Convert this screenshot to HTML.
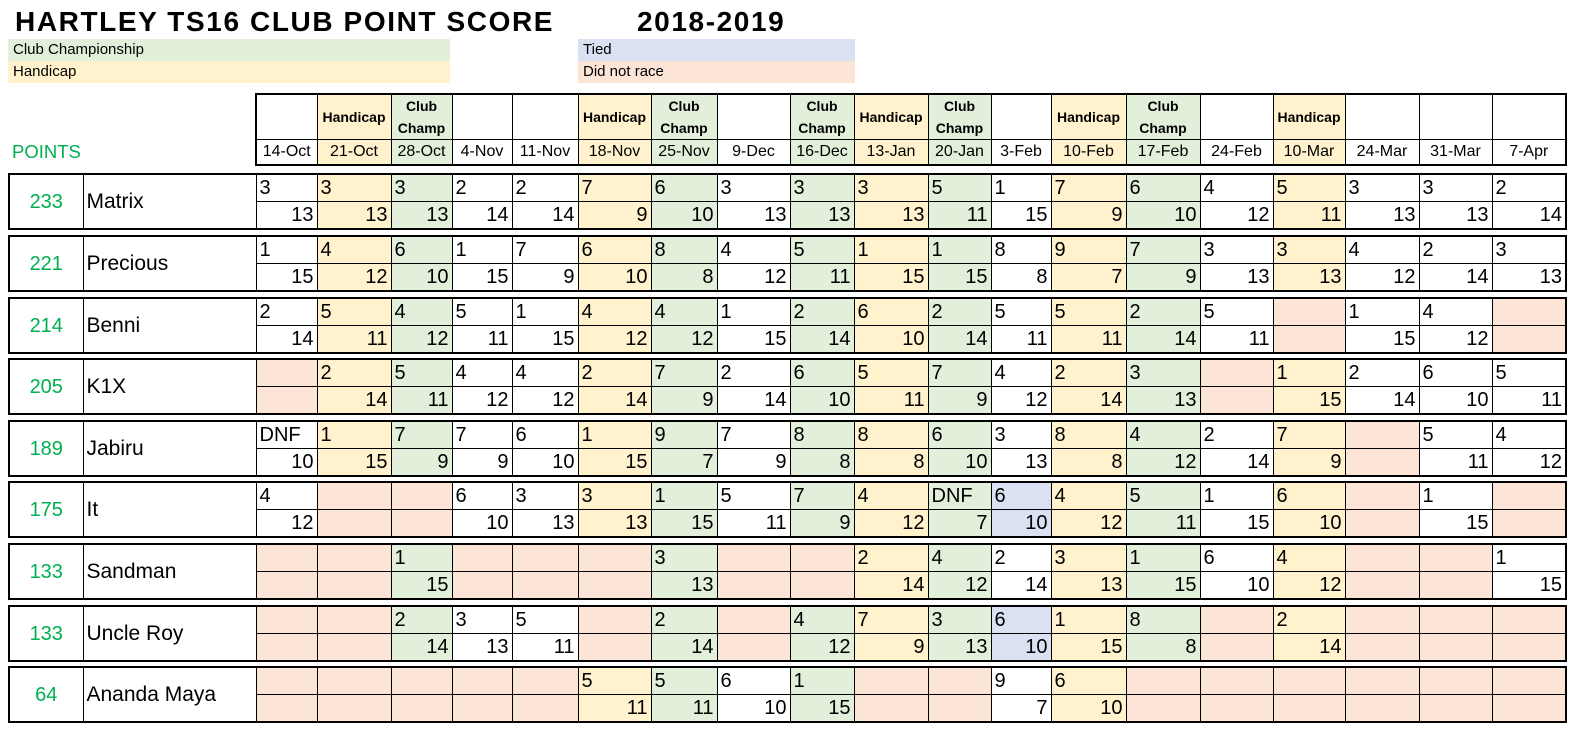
<!DOCTYPE html>
<html><head><meta charset="utf-8">
<style>
body{margin:0;width:1574px;height:733px;background:#fff;position:relative;overflow:hidden;font-family:"Liberation Sans",Arial,sans-serif;}
.abs{position:absolute}
.title{font-weight:bold;font-size:28px;top:4px;line-height:36px;letter-spacing:1.6px}
.leg{font-size:15px;line-height:22px;padding-left:5px;box-sizing:border-box}
table{border-collapse:collapse;table-layout:fixed;position:absolute}
td{border:1px solid #000;padding:0 3px;overflow:hidden;white-space:nowrap}
.hd{left:255px;top:93px;width:1310px;border:2px solid #000}
.hd tr.l td{height:44px;font-weight:bold;font-size:14px;text-align:center;line-height:22px}
.hd tr.dt td{height:24px;font-size:16px;text-align:center}
.r{left:8px;width:1557px;border:2px solid #000}
.r td{font-size:20px;height:26px;line-height:26px}
.r tr.b td{text-align:right}
.r td.pt{color:#00B050;text-align:center;font-size:20px}
.r td.nm{font-size:21px}
.h{background:#FFF2CC}.c{background:#E2EFDA}.d{background:#FCE4D6}.t{background:#D9E1F2}
</style></head><body>
<div class="abs title" style="left:15px">HARTLEY TS16 CLUB POINT SCORE</div>
<div class="abs title" style="left:637px">2018-2019</div>
<div class="abs leg" style="left:8px;top:39px;width:442px;background:#E2EFDA">Club Championship</div>
<div class="abs leg" style="left:8px;top:61px;width:442px;background:#FFF2CC">Handicap</div>
<div class="abs leg" style="left:578px;top:39px;width:277px;background:#D9E1F2">Tied</div>
<div class="abs leg" style="left:578px;top:61px;width:277px;background:#FCE4D6">Did not race</div>
<div class="abs" style="left:12px;top:141px;font-size:18.5px;color:#00B050">POINTS</div>

<table class="hd">
<colgroup><col style="width:61px"><col style="width:74px"><col style="width:61px"><col style="width:60px"><col style="width:66px"><col style="width:73px"><col style="width:66px"><col style="width:73px"><col style="width:64px"><col style="width:74px"><col style="width:63px"><col style="width:60px"><col style="width:75px"><col style="width:74px"><col style="width:73px"><col style="width:72px"><col style="width:74px"><col style="width:73px"><col style="width:74px"></colgroup>
<tr class="l"><td></td><td class="h">Handicap</td><td class="c">Club<br>Champ</td><td></td><td></td><td class="h">Handicap</td><td class="c">Club<br>Champ</td><td></td><td class="c">Club<br>Champ</td><td class="h">Handicap</td><td class="c">Club<br>Champ</td><td></td><td class="h">Handicap</td><td class="c">Club<br>Champ</td><td></td><td class="h">Handicap</td><td></td><td></td><td></td></tr>
<tr class="dt"><td>14-Oct</td><td class="h">21-Oct</td><td class="c">28-Oct</td><td>4-Nov</td><td>11-Nov</td><td class="h">18-Nov</td><td class="c">25-Nov</td><td>9-Dec</td><td class="c">16-Dec</td><td class="h">13-Jan</td><td class="c">20-Jan</td><td>3-Feb</td><td class="h">10-Feb</td><td class="c">17-Feb</td><td>24-Feb</td><td class="h">10-Mar</td><td>24-Mar</td><td>31-Mar</td><td>7-Apr</td></tr>
</table>

<table class="r" style="top:173px">
<colgroup><col style="width:74px"><col style="width:173px"><col style="width:61px"><col style="width:74px"><col style="width:61px"><col style="width:60px"><col style="width:66px"><col style="width:73px"><col style="width:66px"><col style="width:73px"><col style="width:64px"><col style="width:74px"><col style="width:63px"><col style="width:60px"><col style="width:75px"><col style="width:74px"><col style="width:73px"><col style="width:72px"><col style="width:74px"><col style="width:73px"><col style="width:74px"></colgroup>
<tr><td class="pt" rowspan="2">233</td><td class="nm" rowspan="2">Matrix</td><td>3</td><td class="h">3</td><td class="c">3</td><td>2</td><td>2</td><td class="h">7</td><td class="c">6</td><td>3</td><td class="c">3</td><td class="h">3</td><td class="c">5</td><td>1</td><td class="h">7</td><td class="c">6</td><td>4</td><td class="h">5</td><td>3</td><td>3</td><td>2</td></tr>
<tr class="b"><td>13</td><td class="h">13</td><td class="c">13</td><td>14</td><td>14</td><td class="h">9</td><td class="c">10</td><td>13</td><td class="c">13</td><td class="h">13</td><td class="c">11</td><td>15</td><td class="h">9</td><td class="c">10</td><td>12</td><td class="h">11</td><td>13</td><td>13</td><td>14</td></tr>
</table>

<table class="r" style="top:235px">
<colgroup><col style="width:74px"><col style="width:173px"><col style="width:61px"><col style="width:74px"><col style="width:61px"><col style="width:60px"><col style="width:66px"><col style="width:73px"><col style="width:66px"><col style="width:73px"><col style="width:64px"><col style="width:74px"><col style="width:63px"><col style="width:60px"><col style="width:75px"><col style="width:74px"><col style="width:73px"><col style="width:72px"><col style="width:74px"><col style="width:73px"><col style="width:74px"></colgroup>
<tr><td class="pt" rowspan="2">221</td><td class="nm" rowspan="2">Precious</td><td>1</td><td class="h">4</td><td class="c">6</td><td>1</td><td>7</td><td class="h">6</td><td class="c">8</td><td>4</td><td class="c">5</td><td class="h">1</td><td class="c">1</td><td>8</td><td class="h">9</td><td class="c">7</td><td>3</td><td class="h">3</td><td>4</td><td>2</td><td>3</td></tr>
<tr class="b"><td>15</td><td class="h">12</td><td class="c">10</td><td>15</td><td>9</td><td class="h">10</td><td class="c">8</td><td>12</td><td class="c">11</td><td class="h">15</td><td class="c">15</td><td>8</td><td class="h">7</td><td class="c">9</td><td>13</td><td class="h">13</td><td>12</td><td>14</td><td>13</td></tr>
</table>

<table class="r" style="top:297px">
<colgroup><col style="width:74px"><col style="width:173px"><col style="width:61px"><col style="width:74px"><col style="width:61px"><col style="width:60px"><col style="width:66px"><col style="width:73px"><col style="width:66px"><col style="width:73px"><col style="width:64px"><col style="width:74px"><col style="width:63px"><col style="width:60px"><col style="width:75px"><col style="width:74px"><col style="width:73px"><col style="width:72px"><col style="width:74px"><col style="width:73px"><col style="width:74px"></colgroup>
<tr><td class="pt" rowspan="2">214</td><td class="nm" rowspan="2">Benni</td><td>2</td><td class="h">5</td><td class="c">4</td><td>5</td><td>1</td><td class="h">4</td><td class="c">4</td><td>1</td><td class="c">2</td><td class="h">6</td><td class="c">2</td><td>5</td><td class="h">5</td><td class="c">2</td><td>5</td><td class="d"></td><td>1</td><td>4</td><td class="d"></td></tr>
<tr class="b"><td>14</td><td class="h">11</td><td class="c">12</td><td>11</td><td>15</td><td class="h">12</td><td class="c">12</td><td>15</td><td class="c">14</td><td class="h">10</td><td class="c">14</td><td>11</td><td class="h">11</td><td class="c">14</td><td>11</td><td class="d"></td><td>15</td><td>12</td><td class="d"></td></tr>
</table>

<table class="r" style="top:358px">
<colgroup><col style="width:74px"><col style="width:173px"><col style="width:61px"><col style="width:74px"><col style="width:61px"><col style="width:60px"><col style="width:66px"><col style="width:73px"><col style="width:66px"><col style="width:73px"><col style="width:64px"><col style="width:74px"><col style="width:63px"><col style="width:60px"><col style="width:75px"><col style="width:74px"><col style="width:73px"><col style="width:72px"><col style="width:74px"><col style="width:73px"><col style="width:74px"></colgroup>
<tr><td class="pt" rowspan="2">205</td><td class="nm" rowspan="2">K1X</td><td class="d"></td><td class="h">2</td><td class="c">5</td><td>4</td><td>4</td><td class="h">2</td><td class="c">7</td><td>2</td><td class="c">6</td><td class="h">5</td><td class="c">7</td><td>4</td><td class="h">2</td><td class="c">3</td><td class="d"></td><td class="h">1</td><td>2</td><td>6</td><td>5</td></tr>
<tr class="b"><td class="d"></td><td class="h">14</td><td class="c">11</td><td>12</td><td>12</td><td class="h">14</td><td class="c">9</td><td>14</td><td class="c">10</td><td class="h">11</td><td class="c">9</td><td>12</td><td class="h">14</td><td class="c">13</td><td class="d"></td><td class="h">15</td><td>14</td><td>10</td><td>11</td></tr>
</table>

<table class="r" style="top:420px">
<colgroup><col style="width:74px"><col style="width:173px"><col style="width:61px"><col style="width:74px"><col style="width:61px"><col style="width:60px"><col style="width:66px"><col style="width:73px"><col style="width:66px"><col style="width:73px"><col style="width:64px"><col style="width:74px"><col style="width:63px"><col style="width:60px"><col style="width:75px"><col style="width:74px"><col style="width:73px"><col style="width:72px"><col style="width:74px"><col style="width:73px"><col style="width:74px"></colgroup>
<tr><td class="pt" rowspan="2">189</td><td class="nm" rowspan="2">Jabiru</td><td>DNF</td><td class="h">1</td><td class="c">7</td><td>7</td><td>6</td><td class="h">1</td><td class="c">9</td><td>7</td><td class="c">8</td><td class="h">8</td><td class="c">6</td><td>3</td><td class="h">8</td><td class="c">4</td><td>2</td><td class="h">7</td><td class="d"></td><td>5</td><td>4</td></tr>
<tr class="b"><td>10</td><td class="h">15</td><td class="c">9</td><td>9</td><td>10</td><td class="h">15</td><td class="c">7</td><td>9</td><td class="c">8</td><td class="h">8</td><td class="c">10</td><td>13</td><td class="h">8</td><td class="c">12</td><td>14</td><td class="h">9</td><td class="d"></td><td>11</td><td>12</td></tr>
</table>

<table class="r" style="top:481px">
<colgroup><col style="width:74px"><col style="width:173px"><col style="width:61px"><col style="width:74px"><col style="width:61px"><col style="width:60px"><col style="width:66px"><col style="width:73px"><col style="width:66px"><col style="width:73px"><col style="width:64px"><col style="width:74px"><col style="width:63px"><col style="width:60px"><col style="width:75px"><col style="width:74px"><col style="width:73px"><col style="width:72px"><col style="width:74px"><col style="width:73px"><col style="width:74px"></colgroup>
<tr><td class="pt" rowspan="2">175</td><td class="nm" rowspan="2">It</td><td>4</td><td class="d"></td><td class="d"></td><td>6</td><td>3</td><td class="h">3</td><td class="c">1</td><td>5</td><td class="c">7</td><td class="h">4</td><td class="c">DNF</td><td class="t">6</td><td class="h">4</td><td class="c">5</td><td>1</td><td class="h">6</td><td class="d"></td><td>1</td><td class="d"></td></tr>
<tr class="b"><td>12</td><td class="d"></td><td class="d"></td><td>10</td><td>13</td><td class="h">13</td><td class="c">15</td><td>11</td><td class="c">9</td><td class="h">12</td><td class="c">7</td><td class="t">10</td><td class="h">12</td><td class="c">11</td><td>15</td><td class="h">10</td><td class="d"></td><td>15</td><td class="d"></td></tr>
</table>

<table class="r" style="top:543px">
<colgroup><col style="width:74px"><col style="width:173px"><col style="width:61px"><col style="width:74px"><col style="width:61px"><col style="width:60px"><col style="width:66px"><col style="width:73px"><col style="width:66px"><col style="width:73px"><col style="width:64px"><col style="width:74px"><col style="width:63px"><col style="width:60px"><col style="width:75px"><col style="width:74px"><col style="width:73px"><col style="width:72px"><col style="width:74px"><col style="width:73px"><col style="width:74px"></colgroup>
<tr><td class="pt" rowspan="2">133</td><td class="nm" rowspan="2">Sandman</td><td class="d"></td><td class="d"></td><td class="c">1</td><td class="d"></td><td class="d"></td><td class="d"></td><td class="c">3</td><td class="d"></td><td class="d"></td><td class="h">2</td><td class="c">4</td><td>2</td><td class="h">3</td><td class="c">1</td><td>6</td><td class="h">4</td><td class="d"></td><td class="d"></td><td>1</td></tr>
<tr class="b"><td class="d"></td><td class="d"></td><td class="c">15</td><td class="d"></td><td class="d"></td><td class="d"></td><td class="c">13</td><td class="d"></td><td class="d"></td><td class="h">14</td><td class="c">12</td><td>14</td><td class="h">13</td><td class="c">15</td><td>10</td><td class="h">12</td><td class="d"></td><td class="d"></td><td>15</td></tr>
</table>

<table class="r" style="top:605px">
<colgroup><col style="width:74px"><col style="width:173px"><col style="width:61px"><col style="width:74px"><col style="width:61px"><col style="width:60px"><col style="width:66px"><col style="width:73px"><col style="width:66px"><col style="width:73px"><col style="width:64px"><col style="width:74px"><col style="width:63px"><col style="width:60px"><col style="width:75px"><col style="width:74px"><col style="width:73px"><col style="width:72px"><col style="width:74px"><col style="width:73px"><col style="width:74px"></colgroup>
<tr><td class="pt" rowspan="2">133</td><td class="nm" rowspan="2">Uncle Roy</td><td class="d"></td><td class="d"></td><td class="c">2</td><td>3</td><td>5</td><td class="d"></td><td class="c">2</td><td class="d"></td><td class="c">4</td><td class="h">7</td><td class="c">3</td><td class="t">6</td><td class="h">1</td><td class="c">8</td><td class="d"></td><td class="h">2</td><td class="d"></td><td class="d"></td><td class="d"></td></tr>
<tr class="b"><td class="d"></td><td class="d"></td><td class="c">14</td><td>13</td><td>11</td><td class="d"></td><td class="c">14</td><td class="d"></td><td class="c">12</td><td class="h">9</td><td class="c">13</td><td class="t">10</td><td class="h">15</td><td class="c">8</td><td class="d"></td><td class="h">14</td><td class="d"></td><td class="d"></td><td class="d"></td></tr>
</table>

<table class="r" style="top:666px">
<colgroup><col style="width:74px"><col style="width:173px"><col style="width:61px"><col style="width:74px"><col style="width:61px"><col style="width:60px"><col style="width:66px"><col style="width:73px"><col style="width:66px"><col style="width:73px"><col style="width:64px"><col style="width:74px"><col style="width:63px"><col style="width:60px"><col style="width:75px"><col style="width:74px"><col style="width:73px"><col style="width:72px"><col style="width:74px"><col style="width:73px"><col style="width:74px"></colgroup>
<tr><td class="pt" rowspan="2">64</td><td class="nm" rowspan="2">Ananda Maya</td><td class="d"></td><td class="d"></td><td class="d"></td><td class="d"></td><td class="d"></td><td class="h">5</td><td class="c">5</td><td>6</td><td class="c">1</td><td class="d"></td><td class="d"></td><td>9</td><td class="h">6</td><td class="d"></td><td class="d"></td><td class="d"></td><td class="d"></td><td class="d"></td><td class="d"></td></tr>
<tr class="b"><td class="d"></td><td class="d"></td><td class="d"></td><td class="d"></td><td class="d"></td><td class="h">11</td><td class="c">11</td><td>10</td><td class="c">15</td><td class="d"></td><td class="d"></td><td>7</td><td class="h">10</td><td class="d"></td><td class="d"></td><td class="d"></td><td class="d"></td><td class="d"></td><td class="d"></td></tr>
</table>
</body></html>
